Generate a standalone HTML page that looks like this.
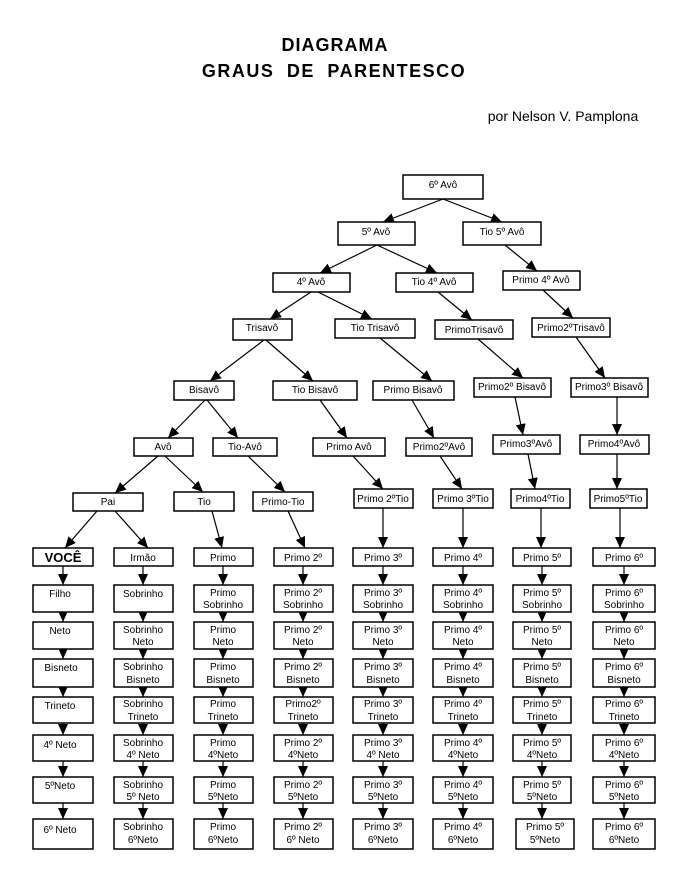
<!DOCTYPE html>
<html><head><meta charset="utf-8"><style>
html,body{margin:0;padding:0;background:#fff;}
svg{display:block;font-family:"Liberation Sans",sans-serif;}
rect{fill:#fff;stroke:#000;stroke-width:1.5;}
line{stroke:#000;stroke-width:1.2;marker-end:url(#ah);}
text{font-size:10px;text-anchor:middle;fill:#000;}
</style></head><body>
<svg width="680" height="877" viewBox="0 0 680 877" xmlns="http://www.w3.org/2000/svg">
<defs><marker id="ah" markerUnits="userSpaceOnUse" markerWidth="12" markerHeight="12" refX="11" refY="5" orient="auto"><path d="M0,0 L11,5 L0,10 Z" fill="#000"/></marker></defs>
<text x="335" y="51" style="font-size:18px;font-weight:bold;letter-spacing:1px">DIAGRAMA</text>
<text x="334" y="77" style="font-size:18px;font-weight:bold;letter-spacing:1.5px;word-spacing:6px">GRAUS DE PARENTESCO</text>
<text x="563" y="121" style="font-size:14px">por Nelson V. Pamplona</text>

<!-- edges top -->
<line x1="443" y1="199" x2="383" y2="222"/><line x1="443" y1="199" x2="502" y2="222"/>
<line x1="377" y1="245" x2="320" y2="273"/><line x1="377" y1="245" x2="437" y2="273"/>
<line x1="505" y1="245" x2="537" y2="271"/>
<line x1="311" y1="292" x2="270" y2="319"/><line x1="318" y1="292" x2="372" y2="319"/>
<line x1="438" y1="292" x2="472" y2="320"/><line x1="543" y1="290" x2="573" y2="318"/>
<line x1="264" y1="340" x2="210" y2="381"/><line x1="266" y1="340" x2="313" y2="381"/>
<line x1="380" y1="338" x2="432" y2="381"/><line x1="478" y1="339" x2="523" y2="378"/>
<line x1="576" y1="337" x2="605" y2="378"/>
<line x1="617" y1="397" x2="617" y2="435"/><line x1="515" y1="397" x2="523" y2="435"/>
<line x1="205" y1="400" x2="168" y2="438"/><line x1="207" y1="400" x2="238" y2="438"/>
<line x1="320" y1="400" x2="347" y2="438"/><line x1="412" y1="400" x2="434" y2="438"/>
<line x1="158" y1="456" x2="115" y2="493"/><line x1="165" y1="456" x2="203" y2="492"/>
<line x1="248" y1="456" x2="285" y2="492"/><line x1="353" y1="456" x2="383" y2="489"/>
<line x1="440" y1="456" x2="462" y2="489"/><line x1="528" y1="454" x2="535" y2="489"/>
<line x1="617" y1="454" x2="617" y2="489"/>
<line x1="97" y1="511" x2="65" y2="548"/><line x1="115" y1="511" x2="148" y2="548"/>
<line x1="212" y1="511" x2="222" y2="548"/><line x1="288" y1="511" x2="305" y2="548"/>
<line x1="383" y1="508" x2="383" y2="548"/><line x1="463" y1="508" x2="463" y2="548"/>
<line x1="541" y1="508" x2="541" y2="548"/><line x1="620" y1="508" x2="620" y2="548"/>

<!-- top boxes -->
<rect x="403" y="175" width="80" height="24"/><text x="443" y="188">6º Avô</text>
<rect x="338" y="222" width="77" height="23"/><text x="376" y="235">5º Avô</text>
<rect x="463" y="222" width="78" height="23"/><text x="502" y="235">Tio 5º Avô</text>
<rect x="273" y="273" width="77" height="19"/><text x="311" y="285">4º Avô</text>
<rect x="396" y="273" width="77" height="19"/><text x="434" y="285">Tio 4º Avô</text>
<rect x="503" y="271" width="77" height="19"/><text x="541" y="283">Primo 4º Avô</text>
<rect x="233" y="319" width="59" height="21"/><text x="262" y="331">Trisavô</text>
<rect x="335" y="319" width="80" height="19"/><text x="375" y="331">Tio Trisavô</text>
<rect x="435" y="320" width="78" height="19"/><text x="474" y="333">PrimoTrisavô</text>
<rect x="532" y="318" width="78" height="19"/><text x="571" y="331">Primo2ºTrisavô</text>
<rect x="174" y="381" width="60" height="19"/><text x="204" y="393">Bisavô</text>
<rect x="273" y="381" width="84" height="19"/><text x="315" y="393">Tio Bisavô</text>
<rect x="373" y="381" width="81" height="19"/><text x="413" y="393">Primo Bisavô</text>
<rect x="474" y="378" width="77" height="19"/><text x="512" y="390">Primo2º Bisavô</text>
<rect x="571" y="378" width="77" height="19"/><text x="609" y="390">Primo3º Bisavô</text>
<rect x="134" y="438" width="59" height="18"/><text x="163" y="450">Avô</text>
<rect x="213" y="438" width="64" height="18"/><text x="245" y="450">Tio-Avô</text>
<rect x="313" y="438" width="72" height="18"/><text x="349" y="450">Primo Avô</text>
<rect x="406" y="438" width="66" height="18"/><text x="439" y="450">Primo2ºAvô</text>
<rect x="493" y="435" width="67" height="19"/><text x="526" y="447">Primo3ºAvô</text>
<rect x="580" y="435" width="69" height="19"/><text x="614" y="447">Primo4ºAvô</text>
<rect x="73" y="493" width="70" height="18"/><text x="108" y="505">Pai</text>
<rect x="174" y="492" width="60" height="19"/><text x="204" y="505">Tio</text>
<rect x="253" y="492" width="60" height="19"/><text x="283" y="505">Primo-Tio</text>
<rect x="354" y="489" width="59" height="19"/><text x="383" y="502">Primo 2ºTio</text>
<rect x="433" y="489" width="60" height="19"/><text x="463" y="502">Primo 3ºTio</text>
<rect x="511" y="489" width="59" height="19"/><text x="540" y="502">Primo4ºTio</text>
<rect x="590" y="489" width="57" height="19"/><text x="618" y="502">Primo5ºTio</text>

<!-- grid vertical arrows -->
<g>
<line x1="63" y1="566" x2="63" y2="585"/><line x1="63" y1="612" x2="63" y2="622"/><line x1="63" y1="649" x2="63" y2="659"/><line x1="63" y1="687" x2="63" y2="697"/><line x1="63" y1="723" x2="63" y2="735"/><line x1="63" y1="761" x2="63" y2="777"/><line x1="63" y1="803" x2="63" y2="819"/>
<line x1="143" y1="566" x2="143" y2="585"/><line x1="143" y1="612" x2="143" y2="622"/><line x1="143" y1="649" x2="143" y2="659"/><line x1="143" y1="687" x2="143" y2="697"/><line x1="143" y1="723" x2="143" y2="735"/><line x1="143" y1="761" x2="143" y2="777"/><line x1="143" y1="803" x2="143" y2="819"/>
<line x1="223" y1="566" x2="223" y2="585"/><line x1="223" y1="612" x2="223" y2="622"/><line x1="223" y1="649" x2="223" y2="659"/><line x1="223" y1="687" x2="223" y2="697"/><line x1="223" y1="723" x2="223" y2="735"/><line x1="223" y1="761" x2="223" y2="777"/><line x1="223" y1="803" x2="223" y2="819"/>
<line x1="303" y1="566" x2="303" y2="585"/><line x1="303" y1="612" x2="303" y2="622"/><line x1="303" y1="649" x2="303" y2="659"/><line x1="303" y1="687" x2="303" y2="697"/><line x1="303" y1="723" x2="303" y2="735"/><line x1="303" y1="761" x2="303" y2="777"/><line x1="303" y1="803" x2="303" y2="819"/>
<line x1="383" y1="566" x2="383" y2="585"/><line x1="383" y1="612" x2="383" y2="622"/><line x1="383" y1="649" x2="383" y2="659"/><line x1="383" y1="687" x2="383" y2="697"/><line x1="383" y1="723" x2="383" y2="735"/><line x1="383" y1="761" x2="383" y2="777"/><line x1="383" y1="803" x2="383" y2="819"/>
<line x1="463" y1="566" x2="463" y2="585"/><line x1="463" y1="612" x2="463" y2="622"/><line x1="463" y1="649" x2="463" y2="659"/><line x1="463" y1="687" x2="463" y2="697"/><line x1="463" y1="723" x2="463" y2="735"/><line x1="463" y1="761" x2="463" y2="777"/><line x1="463" y1="803" x2="463" y2="819"/>
<line x1="542" y1="566" x2="542" y2="585"/><line x1="542" y1="612" x2="542" y2="622"/><line x1="542" y1="649" x2="542" y2="659"/><line x1="542" y1="687" x2="542" y2="697"/><line x1="542" y1="723" x2="542" y2="735"/><line x1="542" y1="761" x2="542" y2="777"/><line x1="542" y1="803" x2="542" y2="819"/>
<line x1="624" y1="566" x2="624" y2="585"/><line x1="624" y1="612" x2="624" y2="622"/><line x1="624" y1="649" x2="624" y2="659"/><line x1="624" y1="687" x2="624" y2="697"/><line x1="624" y1="723" x2="624" y2="735"/><line x1="624" y1="761" x2="624" y2="777"/><line x1="624" y1="803" x2="624" y2="819"/>
</g>

<!-- row 0 -->
<rect x="33" y="548" width="60" height="18"/><text x="63" y="562" style="font-size:13px;font-weight:bold">VOCÊ</text>
<rect x="114" y="548" width="59" height="18"/><text x="143" y="561">Irmão</text>
<rect x="194" y="548" width="59" height="18"/><text x="223" y="561">Primo</text>
<rect x="274" y="548" width="59" height="18"/><text x="303" y="561">Primo 2º</text>
<rect x="353" y="548" width="60" height="18"/><text x="383" y="561">Primo 3º</text>
<rect x="433" y="548" width="60" height="18"/><text x="463" y="561">Primo 4º</text>
<rect x="513" y="548" width="58" height="18"/><text x="542" y="561">Primo 5º</text>
<rect x="593" y="548" width="62" height="18"/><text x="624" y="561">Primo 6º</text>

<!-- col 1 -->
<rect x="33" y="585" width="60" height="27"/><text x="60" y="597">Filho</text>
<rect x="33" y="622" width="60" height="27"/><text x="60" y="634">Neto</text>
<rect x="33" y="659" width="60" height="28"/><text x="61" y="671">Bisneto</text>
<rect x="33" y="697" width="60" height="26"/><text x="60" y="709">Trineto</text>
<rect x="33" y="735" width="60" height="26"/><text x="60" y="748">4º Neto</text>
<rect x="33" y="777" width="60" height="26"/><text x="60" y="789">5ºNeto</text>
<rect x="33" y="819" width="60" height="30"/><text x="60" y="833">6º Neto</text>

<g>
<rect x="114" y="585" width="59" height="27"/><text x="143" y="597">Sobrinho</text>
<rect x="114" y="622" width="59" height="27"/><text x="143" y="633">Sobrinho</text><text x="143" y="645">Neto</text>
<rect x="114" y="659" width="59" height="28"/><text x="143" y="670">Sobrinho</text><text x="143" y="683">Bisneto</text>
<rect x="114" y="697" width="59" height="26"/><text x="143" y="707">Sobrinho</text><text x="143" y="720">Trineto</text>
<rect x="114" y="735" width="59" height="26"/><text x="143" y="746">Sobrinho</text><text x="143" y="758">4º Neto</text>
<rect x="114" y="777" width="59" height="26"/><text x="143" y="788">Sobrinho</text><text x="143" y="800">5º Neto</text>
<rect x="114" y="819" width="59" height="30"/><text x="143" y="830">Sobrinho</text><text x="143" y="843">6ºNeto</text>

<rect x="194" y="585" width="59" height="27"/><text x="223" y="596">Primo</text><text x="223" y="608">Sobrinho</text>
<rect x="194" y="622" width="59" height="27"/><text x="223" y="633">Primo</text><text x="223" y="645">Neto</text>
<rect x="194" y="659" width="59" height="28"/><text x="223" y="670">Primo</text><text x="223" y="683">Bisneto</text>
<rect x="194" y="697" width="59" height="26"/><text x="223" y="707">Primo</text><text x="223" y="720">Trineto</text>
<rect x="194" y="735" width="59" height="26"/><text x="223" y="746">Primo</text><text x="223" y="758">4ºNeto</text>
<rect x="194" y="777" width="59" height="26"/><text x="223" y="788">Primo</text><text x="223" y="800">5ºNeto</text>
<rect x="194" y="819" width="59" height="30"/><text x="223" y="830">Primo</text><text x="223" y="843">6ºNeto</text>

<rect x="274" y="585" width="59" height="27"/><text x="303" y="596">Primo 2º</text><text x="303" y="608">Sobrinho</text>
<rect x="274" y="622" width="59" height="27"/><text x="303" y="633">Primo 2º</text><text x="303" y="645">Neto</text>
<rect x="274" y="659" width="59" height="28"/><text x="303" y="670">Primo 2º</text><text x="303" y="683">Bisneto</text>
<rect x="274" y="697" width="59" height="26"/><text x="303" y="707">Primo2º</text><text x="303" y="720">Trineto</text>
<rect x="274" y="735" width="59" height="26"/><text x="303" y="746">Primo 2º</text><text x="303" y="758">4ºNeto</text>
<rect x="274" y="777" width="59" height="26"/><text x="303" y="788">Primo 2º</text><text x="303" y="800">5ºNeto</text>
<rect x="274" y="819" width="59" height="30"/><text x="303" y="830">Primo 2º</text><text x="303" y="843">6º Neto</text>

<rect x="353" y="585" width="60" height="27"/><text x="383" y="596">Primo 3º</text><text x="383" y="608">Sobrinho</text>
<rect x="353" y="622" width="60" height="27"/><text x="383" y="633">Primo 3º</text><text x="383" y="645">Neto</text>
<rect x="353" y="659" width="60" height="28"/><text x="383" y="670">Primo 3º</text><text x="383" y="683">Bisneto</text>
<rect x="353" y="697" width="60" height="26"/><text x="383" y="707">Primo 3º</text><text x="383" y="720">Trineto</text>
<rect x="353" y="735" width="60" height="26"/><text x="383" y="746">Primo 3º</text><text x="383" y="758">4º Neto</text>
<rect x="353" y="777" width="60" height="26"/><text x="383" y="788">Primo 3º</text><text x="383" y="800">5ºNeto</text>
<rect x="353" y="819" width="60" height="30"/><text x="383" y="830">Primo 3º</text><text x="383" y="843">6ºNeto</text>

<rect x="433" y="585" width="60" height="27"/><text x="463" y="596">Primo 4º</text><text x="463" y="608">Sobrinho</text>
<rect x="433" y="622" width="60" height="27"/><text x="463" y="633">Primo 4º</text><text x="463" y="645">Neto</text>
<rect x="433" y="659" width="60" height="28"/><text x="463" y="670">Primo 4º</text><text x="463" y="683">Bisneto</text>
<rect x="433" y="697" width="60" height="26"/><text x="463" y="707">Primo 4º</text><text x="463" y="720">Trineto</text>
<rect x="433" y="735" width="60" height="26"/><text x="463" y="746">Primo 4º</text><text x="463" y="758">4ºNeto</text>
<rect x="433" y="777" width="60" height="26"/><text x="463" y="788">Primo 4º</text><text x="463" y="800">5ºNeto</text>
<rect x="433" y="819" width="60" height="30"/><text x="463" y="830">Primo 4º</text><text x="463" y="843">6ºNeto</text>

<rect x="513" y="585" width="58" height="27"/><text x="542" y="596">Primo 5º</text><text x="542" y="608">Sobrinho</text>
<rect x="513" y="622" width="58" height="27"/><text x="542" y="633">Primo 5º</text><text x="542" y="645">Neto</text>
<rect x="513" y="659" width="58" height="28"/><text x="542" y="670">Primo 5º</text><text x="542" y="683">Bisneto</text>
<rect x="513" y="697" width="58" height="26"/><text x="542" y="707">Primo 5º</text><text x="542" y="720">Trineto</text>
<rect x="513" y="735" width="58" height="26"/><text x="542" y="746">Primo 5º</text><text x="542" y="758">4ºNeto</text>
<rect x="513" y="777" width="58" height="26"/><text x="542" y="788">Primo 5º</text><text x="542" y="800">5ºNeto</text>
<rect x="516" y="819" width="58" height="30"/><text x="545" y="830">Primo 5º</text><text x="545" y="843">5ºNeto</text>

<rect x="593" y="585" width="62" height="27"/><text x="624" y="596">Primo 6º</text><text x="624" y="608">Sobrinho</text>
<rect x="593" y="622" width="62" height="27"/><text x="624" y="633">Primo 6º</text><text x="624" y="645">Neto</text>
<rect x="593" y="659" width="62" height="28"/><text x="624" y="670">Primo 6º</text><text x="624" y="683">Bisneto</text>
<rect x="593" y="697" width="62" height="26"/><text x="624" y="707">Primo 6º</text><text x="624" y="720">Trineto</text>
<rect x="593" y="735" width="62" height="26"/><text x="624" y="746">Primo 6º</text><text x="624" y="758">4ºNeto</text>
<rect x="593" y="777" width="62" height="26"/><text x="624" y="788">Primo 6º</text><text x="624" y="800">5ºNeto</text>
<rect x="593" y="819" width="62" height="30"/><text x="624" y="830">Primo 6º</text><text x="624" y="843">6ºNeto</text>
</g>
</svg>
</body></html>
